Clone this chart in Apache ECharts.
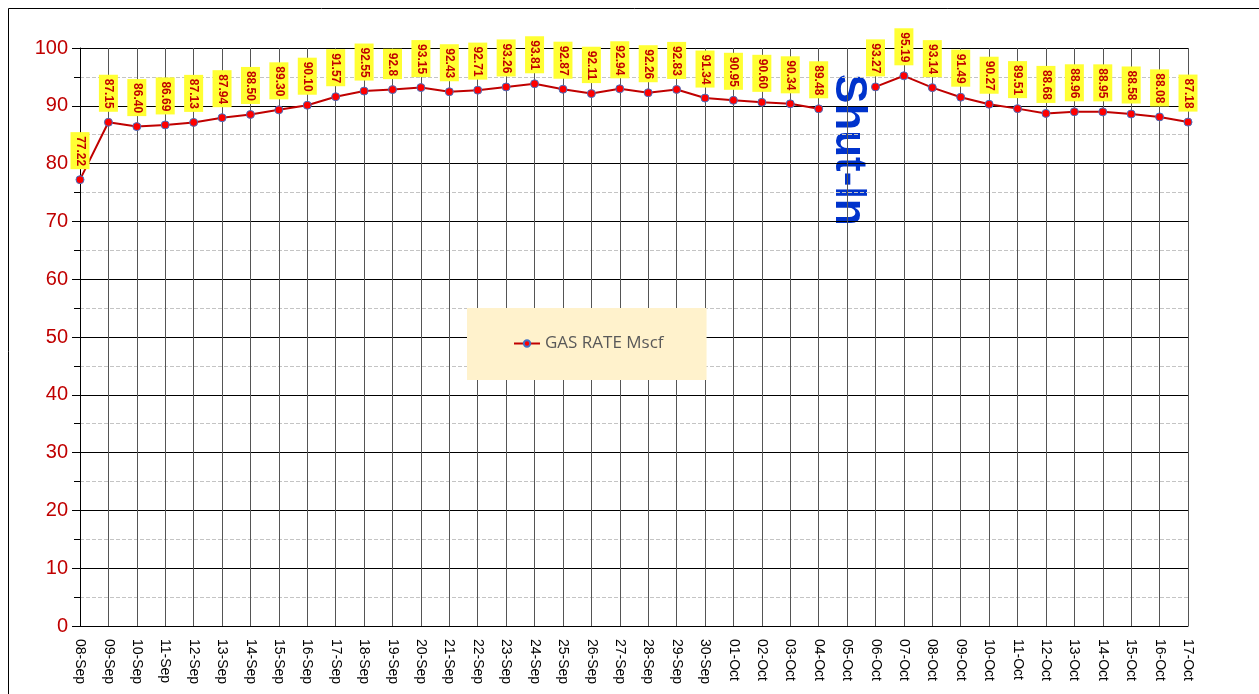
<!DOCTYPE html>
<html>
<head>
<meta charset="UTF-8">
<title>GAS RATE Mscf</title>
<script type="text/javascript" src="https://cdn.jsdelivr.net/npm/echarts@6/dist/echarts.min.js"></script>
<style>
html,body{margin:0;padding:0;background:#fff;}
</style>
</head>
<body>
<div id="main" style="width:1259px;height:694px;"></div>

<script type="text/javascript">
// dates on the x axis
var dates = ['08-Sep','09-Sep','10-Sep','11-Sep','12-Sep','13-Sep','14-Sep','15-Sep','16-Sep','17-Sep',
  '18-Sep','19-Sep','20-Sep','21-Sep','22-Sep','23-Sep','24-Sep','25-Sep','26-Sep','27-Sep',
  '28-Sep','29-Sep','30-Sep','01-Oct','02-Oct','03-Oct','04-Oct','05-Oct','06-Oct','07-Oct',
  '08-Oct','09-Oct','10-Oct','11-Oct','12-Oct','13-Oct','14-Oct','15-Oct','16-Oct','17-Oct'];
// gas rate, 05-Oct is the shut-in day (no value)
var gasRate = [77.22,87.15,86.40,86.69,87.13,87.94,88.50,89.30,90.10,91.57,
  92.55,92.8,93.15,92.43,92.71,93.26,93.81,92.87,92.11,92.94,
  92.26,92.83,91.34,90.95,90.60,90.34,89.48,null,93.27,95.19,
  93.14,91.49,90.27,89.51,88.68,88.96,88.95,88.58,88.08,87.18];
// label text as printed on the chart
var rateLabels = ['77.22','87.15','86.40','86.69','87.13','87.94','88.50','89.30','90.10','91.57',
  '92.55','92.8','93.15','92.43','92.71','93.26','93.81','92.87','92.11','92.94',
  '92.26','92.83','91.34','90.95','90.60','90.34','89.48','','93.27','95.19',
  '93.14','91.49','90.27','89.51','88.68','88.96','88.95','88.58','88.08','87.18'];
var yTicks = [0,10,20,30,40,50,60,70,80,90,100];

var mychart = echarts.init(document.getElementById('main'));

var option = {
  animation: false,
  backgroundColor: '#fff',
  grid: { left: 80, right: 71, top: 48, bottom: 68, containLabel: false },
  legend: {
    data: ['GAS RATE Mscf'],
    left: 467, top: 308,
    orient: 'horizontal',
    backgroundColor: '#FFF2CC',
    padding: [27, 43, 28, 46],
    itemWidth: 26, itemHeight: 8, itemGap: 5,
    textStyle: { color: '#595959', fontSize: 17, fontFamily: 'Open Sans' }
  },
  xAxis: {
    type: 'category',
    data: dates,
    boundaryGap: false,
    axisLine: { lineStyle: { color: '#000', width: 1 } },
    axisTick: { show: false },
    axisLabel: {
      interval: 0, rotate: -90, color: '#000', fontSize: 14,
      fontFamily: 'Liberation Sans', margin: 13
    },
    splitLine: { show: true, interval: 0, lineStyle: { color: '#555', width: 1 } }
  },
  yAxis: {
    type: 'value',
    min: yTicks[0], max: yTicks[yTicks.length - 1], interval: 10,
    axisLine: { show: true, lineStyle: { color: '#000' } },
    axisTick: { show: true, length: 8, lineStyle: { color: '#000' } },
    minorTick: { show: true, splitNumber: 2, length: 6, lineStyle: { color: '#000' } },
    axisLabel: { color: '#C00000', fontSize: 20, fontFamily: 'Liberation Sans', margin: 12 },
    splitLine: { show: true, lineStyle: { color: '#000', width: 1 } },
    minorSplitLine: { show: true, lineStyle: { color: '#c4c4c4', type: 'dashed', width: 1 } }
  },
  series: [{
    name: 'GAS RATE Mscf',
    type: 'line',
    data: gasRate,
    connectNulls: false,
    symbol: 'circle',
    symbolSize: 8,
    lineStyle: { color: '#C00000', width: 2 },
    itemStyle: { color: '#FF0000', borderColor: '#4472C4', borderWidth: 1 },
    label: {
      show: true,
      position: 'top',
      distance: 6,
      rotate: -90,
      align: 'right',
      verticalAlign: 'middle',
      color: '#C00000',
      fontSize: 12,
      fontWeight: 'bold',
      fontFamily: 'Liberation Sans',
      backgroundColor: '#FFFF33',
      padding: [4, 3, 3, 4],
      formatter: function (p) { return rateLabels[p.dataIndex]; }
    }
  }],
  graphic: [
    {
      type: 'rect', silent: true, z: -1,
      shape: { x: 8.5, y: 8.5, width: 1300, height: 720 },
      style: { fill: null, stroke: '#000', lineWidth: 1 }
    },
    {
      type: 'text', silent: true,
      x: 848, y: 74, rotation: -Math.PI / 2,
      style: {
        text: 'Shut-In', fill: '#0033CC', fontSize: 44, fontWeight: 'bold',
        fontFamily: 'Liberation Sans', align: 'left', verticalAlign: 'middle'
      }
    }
  ]
};

mychart.setOption(option);
</script>
</body>
</html>
